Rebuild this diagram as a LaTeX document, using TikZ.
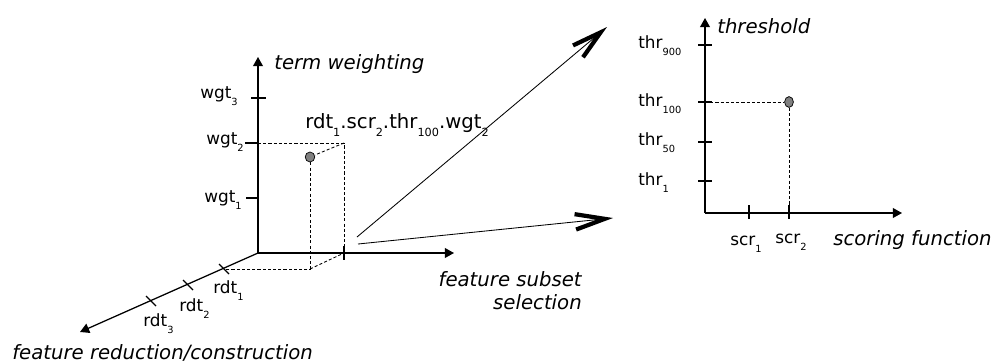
\documentclass[tikz,border=0pt]{standalone}
\usepackage{fontspec}
\setmainfont{DejaVu Sans}
\usetikzlibrary{arrows.meta,shapes.geometric}

% small lowered index, as in wgt_3
\newcommand{\lo}[2][7]{\raisebox{-0.8ex}{\fontsize{#1}{#1}\selectfont #2}}

\tikzset{
  axis/.style={line width=0.9pt,-{Triangle[length=6.5pt,width=7pt]}},
  tickmark/.style={line width=0.8pt},
  guide/.style={line width=0.6pt,dash pattern=on 2.2pt off 1.5pt},
  jump/.style={line width=0.6pt,-{Straight Barb[length=21pt,width=11pt,line width=3pt]}},
  dot/.style={ellipse,draw,line width=0.5pt,fill=black!50,inner sep=0pt,
    minimum width=0.24cm,minimum height=0.25cm},
  lab/.style={font=\fontsize{12}{14}\selectfont,inner sep=0pt},
  axtitle/.style={font=\fontsize{14}{16.3}\selectfont\itshape,inner sep=0pt}
}

\begin{document}
\begin{tikzpicture}[x=0.025cm,y=-0.025cm]
\useasboundingbox (0,0) rectangle (992,363);

% 3d space of the pipeline
\coordinate (o) at (258,253);
\coordinate (wtop) at (258,57);
\coordinate (send) at (454,253);
\coordinate (rend) at (80,332);
\draw[axis] (o) -- (wtop);
\draw[axis] (o) -- (send);
\draw[axis] (o) -- (rend);

\draw[tickmark] (251,98) -- (266,98);
\draw[tickmark] (245,143) -- (258,143);
\draw[tickmark] (246,198) -- (259,198);
\draw[tickmark] (344,246) -- (344,260);
\draw[tickmark] (219,264) -- ++(10,10);
\draw[tickmark] (183,280) -- ++(10,10);
\draw[tickmark] (146,296) -- ++(10,10);

\node[lab,anchor=base east] (w3) at (238,98) {wgt\lo{3}};
\node[lab,anchor=base east] (w2) at (244,144) {wgt\lo{2}};
\node[lab,anchor=base east] (w1) at (242,202) {wgt\lo{1}};
\node[lab,anchor=base west] (r1) at (213,293) {rdt\lo{1}};
\node[lab,anchor=base west] (r2) at (179,311) {rdt\lo{2}};
\node[lab,anchor=base west] (r3) at (143,326) {rdt\lo{3}};

\node[axtitle,anchor=base west] (tw) at (274,69) {term weighting};
\node[axtitle,anchor=north east,align=right] (fs) at (582,271) {feature subset\\selection};
\node[axtitle,anchor=base west] (fr) at (12,359) {feature reduction/construction};

% the chosen configuration and its box
\node[dot] (pt) at (310,157) {};
\coordinate (wk) at (258,143);
\coordinate (cn) at (344,143);
\coordinate (sk) at (344,253);
\coordinate (fl) at (310,269);
\coordinate (rk) at (224,269);
\draw[guide] (wk) -- (cn) -- (sk);
\draw[guide] (cn) -- (pt);
\draw[guide] (pt) -- (fl) -- (rk);
\draw[guide] (fl) -- (sk);
\node[lab,font=\fontsize{14}{16}\selectfont,anchor=base west] (cfg) at (305,128)
  {rdt\lo[8]{1}.scr\lo[8]{2}.thr\lo[8]{100}.wgt\lo[8]{2}};

% expanding the selection step
\coordinate (j1a) at (357,237);
\coordinate (j1b) at (607,27);
\coordinate (j2a) at (358,244);
\coordinate (j2b) at (613,218);
\draw[jump] (j1a) -- (j1b);
\draw[jump] (j2a) -- (j2b);

% 2d plane of the selection step
\coordinate (q) at (705,213);
\coordinate (ttop) at (705,18);
\coordinate (fend) at (902,213);
\draw[axis] (q) -- (ttop);
\draw[axis] (q) -- (fend);

\draw[tickmark] (698,45) -- (712,45);
\draw[tickmark] (698,102) -- (712,102);
\draw[tickmark] (698,142) -- (712,142);
\draw[tickmark] (698,181) -- (712,181);
\draw[tickmark] (749,205) -- (749,219);
\draw[tickmark] (789,205) -- (789,219);

\node[lab,anchor=base west] (t900) at (638,48) {thr\lo{900}};
\node[lab,anchor=base west] (t100) at (638,106) {thr\lo{100}};
\node[lab,anchor=base west] (t50) at (638,145) {thr\lo{50}};
\node[lab,anchor=base west] (t1) at (638,185) {thr\lo{1}};
\node[lab,anchor=base west] (s1) at (730,245) {scr\lo{1}};
\node[lab,anchor=base west] (s2) at (775,243) {scr\lo{2}};

\node[axtitle,anchor=base west] (th) at (717,33) {threshold};
\node[axtitle,anchor=base west] (sf) at (833,245) {scoring function};

\node[dot,minimum width=0.22cm,minimum height=0.27cm] (pt2) at (789,102) {};
\coordinate (tk) at (705,102);
\coordinate (sk2) at (789,213);
\draw[guide] (tk) -- (pt2) -- (sk2);
\end{tikzpicture}
\end{document}
